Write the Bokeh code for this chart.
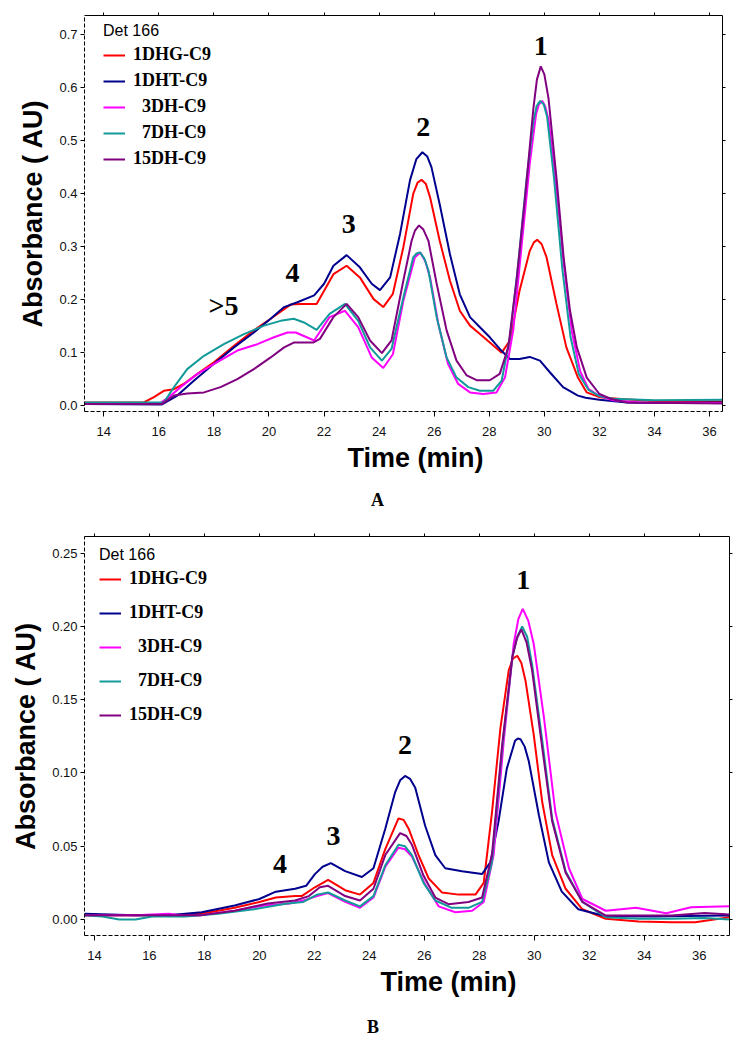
from bokeh.plotting import figure
from bokeh.layouts import column
from bokeh.models import (LinearAxis, Range1d, FixedTicker, Legend, LegendItem,
                          Title, Div, NumeralTickFormatter)
from bokeh.core.properties import value
from bokeh.embed import file_html
from bokeh.resources import INLINE

# ---------------- data: panel A ----------------
series_names = ["1DHG-C9", "1DHT-C9", "3DH-C9", "7DH-C9", "15DH-C9"]
legend_labels = ["1DHG-C9", "1DHT-C9", "  3DH-C9", "  7DH-C9", "15DH-C9"]
colors = ["#ff0000", "#00008f", "#ff00ff", "#129a9a", "#800080"]

a_t_1dhg = [13.3, 15.0, 15.45, 15.82, 16.18, 16.55, 16.9, 17.4, 18.0, 18.73, 19.45, 20.06, 20.55, 20.8,
            21.13, 21.73, 22.34, 22.82, 23.3, 23.8, 24.15, 24.5, 24.88, 25.24, 25.4, 25.54, 25.7, 25.85,
            26.2, 26.57, 26.93, 27.3, 27.66, 28.02, 28.45, 28.75, 29.1, 29.47, 29.62, 29.74, 29.9, 30.08,
            30.44, 30.8, 31.22, 31.54, 32.0, 32.9, 34.0, 36.0, 36.5]
a_v_1dhg = [0.006, 0.006, 0.006, 0.016, 0.028, 0.031, 0.041, 0.060, 0.082, 0.113, 0.142, 0.164, 0.182, 0.191,
            0.192, 0.192, 0.248, 0.264, 0.242, 0.201, 0.186, 0.211, 0.299, 0.400, 0.421, 0.426, 0.418, 0.393,
            0.311, 0.236, 0.179, 0.151, 0.135, 0.119, 0.100, 0.123, 0.217, 0.292, 0.308, 0.313, 0.305, 0.280,
            0.192, 0.110, 0.053, 0.025, 0.016, 0.012, 0.009, 0.008, 0.008]

a_t_1dht = [13.3, 16.1, 16.67, 17.27, 18.0, 18.73, 19.45, 20.06, 20.55, 21.03, 21.64, 22.0, 22.34, 22.82,
            23.3, 23.73, 24.03, 24.4, 24.76, 25.12, 25.35, 25.57, 25.75, 25.9, 26.2, 26.57, 26.93, 27.3, 27.66,
            28.02, 28.38, 28.75, 29.1, 29.47, 29.84, 30.2, 30.68, 31.22, 31.5, 32.0, 33.0, 34.0, 36.0, 36.5]
a_v_1dht = [0.003, 0.002, 0.019, 0.047, 0.079, 0.110, 0.138, 0.164, 0.186, 0.195, 0.208, 0.230, 0.264, 0.284,
            0.261, 0.230, 0.218, 0.242, 0.324, 0.425, 0.465, 0.478, 0.470, 0.450, 0.380, 0.286, 0.210, 0.167,
            0.148, 0.129, 0.107, 0.088, 0.088, 0.092, 0.085, 0.063, 0.035, 0.019, 0.015, 0.011, 0.006, 0.005,
            0.006, 0.006]

a_t_3dh = [13.3, 16.0, 16.36, 16.79, 17.4, 18.12, 18.85, 19.58, 20.18, 20.67, 20.97, 21.33, 21.64, 22.2,
           22.76, 23.24, 23.73, 24.15, 24.5, 24.88, 25.3, 25.5, 25.68, 25.85, 26.15, 26.5, 26.87, 27.3, 27.78,
           28.26, 28.57, 28.87, 29.17, 29.47, 29.7, 29.8, 29.92, 30.03, 30.15, 30.4, 30.7, 31.0, 31.3, 31.6,
           32.0, 32.5, 33.5, 36.5]
a_v_3dh = [0.003, 0.003, 0.016, 0.035, 0.060, 0.082, 0.104, 0.116, 0.129, 0.138, 0.138, 0.130, 0.123, 0.167,
           0.179, 0.148, 0.091, 0.071, 0.097, 0.198, 0.280, 0.289, 0.272, 0.242, 0.154, 0.079, 0.041, 0.025,
           0.022, 0.025, 0.053, 0.142, 0.299, 0.456, 0.550, 0.568, 0.575, 0.565, 0.540, 0.430, 0.270, 0.140,
           0.065, 0.032, 0.018, 0.010, 0.006, 0.005]

a_t_7dh = [13.3, 16.18, 16.55, 17.03, 17.64, 18.36, 19.09, 19.82, 20.42, 20.9, 21.27, 21.73, 22.2, 22.76,
           23.24, 23.67, 24.1, 24.45, 24.88, 25.24, 25.36, 25.48, 25.64, 25.79, 26.09, 26.45, 26.81, 27.24,
           27.66, 28.14, 28.45, 28.75, 29.05, 29.35, 29.6, 29.72, 29.85, 29.98, 30.1, 30.35, 30.65, 30.95,
           31.25, 31.6, 32.0, 32.5, 34.0, 36.5]
a_v_7dh = [0.006, 0.006, 0.035, 0.069, 0.094, 0.116, 0.135, 0.151, 0.160, 0.164, 0.157, 0.143, 0.173, 0.192,
           0.160, 0.110, 0.085, 0.107, 0.204, 0.280, 0.287, 0.289, 0.278, 0.255, 0.167, 0.091, 0.053, 0.035,
           0.028, 0.028, 0.047, 0.129, 0.267, 0.425, 0.535, 0.565, 0.575, 0.568, 0.545, 0.430, 0.260, 0.130,
           0.060, 0.030, 0.018, 0.013, 0.010, 0.011]

a_t_15dh = [13.3, 16.1, 16.55, 17.03, 17.64, 18.24, 18.85, 19.45, 20.06, 20.55, 20.9, 21.27, 21.6, 21.85,
            22.34, 22.82, 23.24, 23.67, 24.1, 24.45, 24.88, 25.18, 25.3, 25.45, 25.6, 25.79, 26.09, 26.45,
            26.81, 27.18, 27.54, 28.02, 28.38, 28.69, 28.99, 29.3, 29.6, 29.73, 29.87, 30.0, 30.15, 30.45,
            30.7, 30.93, 31.18, 31.54, 32.0, 32.4, 33.0, 36.5]
a_v_15dh = [0.003, 0.003, 0.019, 0.023, 0.025, 0.035, 0.050, 0.069, 0.091, 0.110, 0.119, 0.119, 0.119, 0.126,
            0.167, 0.192, 0.167, 0.123, 0.099, 0.123, 0.236, 0.311, 0.330, 0.340, 0.333, 0.311, 0.230, 0.142,
            0.085, 0.057, 0.048, 0.048, 0.060, 0.110, 0.236, 0.393, 0.560, 0.615, 0.640, 0.625, 0.580, 0.425,
            0.280, 0.180, 0.110, 0.053, 0.022, 0.013, 0.006, 0.004]

a_peak_labels = ["1", "2", "3", "4", ">5"]
a_peak_t = [29.87, 25.6, 22.9, 20.85, 18.35]
a_peak_v = [0.679, 0.525, 0.343, 0.251, 0.189]

# ---------------- data: panel B ----------------
b_t_1dhg = [13.64, 15.5, 16.7, 17.9, 19.1, 20.0, 20.6, 21.3, 21.54, 22.02, 22.5, 23.12, 23.66, 24.15, 24.58,
            25.06, 25.25, 25.43, 25.79, 26.16, 26.64, 27.25, 27.86, 28.16, 28.46, 28.77, 29.07, 29.22, 29.38,
            29.53, 29.68, 29.98, 30.29, 30.65, 31.14, 31.75, 32.6, 33.8, 35.0, 35.85, 37.1]
b_v_1dhg = [0.003, 0.003, 0.003, 0.004, 0.008, 0.012, 0.015, 0.016, 0.016, 0.022, 0.027, 0.020, 0.017, 0.025,
            0.048, 0.069, 0.068, 0.062, 0.044, 0.028, 0.0185, 0.017, 0.017, 0.025, 0.073, 0.131, 0.170, 0.178,
            0.180, 0.175, 0.163, 0.126, 0.080, 0.044, 0.021, 0.007, 0.0005, -0.0014, -0.0018, -0.0018, 0.0016]

b_t_1dht = [13.64, 15.5, 16.7, 17.9, 19.1, 20.0, 20.6, 21.3, 21.7, 22.02, 22.3, 22.6, 23.12, 23.73, 24.15,
            24.58, 24.94, 25.12, 25.3, 25.48, 25.67, 26.03, 26.4, 26.76, 27.37, 28.1, 28.4, 28.7, 29.0, 29.3,
            29.4, 29.5, 29.65, 29.8, 30.17, 30.53, 31.0, 31.6, 32.6, 34.4, 36.2, 37.1]
b_v_1dht = [0.004, 0.003, 0.003, 0.005, 0.0096, 0.014, 0.019, 0.021, 0.023, 0.031, 0.036, 0.0385, 0.033,
            0.029, 0.035, 0.062, 0.087, 0.095, 0.098, 0.096, 0.090, 0.064, 0.044, 0.035, 0.033, 0.031, 0.039,
            0.067, 0.103, 0.122, 0.1235, 0.123, 0.118, 0.108, 0.071, 0.039, 0.019, 0.007, 0.0023, 0.002,
            0.0025, 0.0027]

b_t_3dh = [13.64, 15.5, 16.7, 17.3, 17.9, 19.1, 20.2, 21.1, 21.6, 22.1, 22.5, 23.12, 23.66, 24.15, 24.58,
           25.06, 25.3, 25.55, 26.03, 26.52, 27.13, 27.74, 28.16, 28.52, 28.89, 29.25, 29.42, 29.58, 29.78,
           29.98, 30.35, 30.77, 31.26, 31.75, 32.6, 33.7, 34.8, 35.7, 37.1]
b_v_3dh = [0.003, 0.003, 0.004, 0.0025, 0.003, 0.006, 0.0096, 0.011, 0.013, 0.016, 0.018, 0.012, 0.008,
           0.015, 0.036, 0.049, 0.048, 0.043, 0.024, 0.009, 0.005, 0.006, 0.012, 0.044, 0.122, 0.188, 0.205,
           0.212, 0.204, 0.188, 0.138, 0.073, 0.035, 0.014, 0.006, 0.008, 0.0043, 0.0084, 0.009]

b_t_7dh = [13.64, 14.3, 14.9, 15.5, 16.1, 17.3, 18.5, 19.8, 21.0, 21.6, 22.1, 22.5, 23.12, 23.66, 24.15,
           24.58, 25.06, 25.3, 25.55, 25.97, 26.4, 27.0, 27.61, 28.1, 28.46, 28.83, 29.2, 29.38, 29.56,
           29.74, 29.92, 30.29, 30.65, 31.14, 31.75, 32.6, 33.8, 35.0, 36.2, 37.1]
b_v_7dh = [0.003, 0.002, 0.0, 0.0, 0.002, 0.002, 0.004, 0.007, 0.011, 0.012, 0.017, 0.0185, 0.013, 0.009,
           0.016, 0.037, 0.051, 0.050, 0.044, 0.025, 0.013, 0.008, 0.008, 0.012, 0.039, 0.117, 0.179, 0.193,
           0.200, 0.193, 0.174, 0.122, 0.069, 0.033, 0.012, 0.0016, 0.0005, 0.0005, 0.001, 0.0]

b_t_15dh = [13.64, 15.5, 16.7, 17.9, 19.1, 20.3, 21.3, 21.8, 22.2, 22.5, 23.12, 23.66, 24.15, 24.58, 25.12,
            25.35, 25.55, 25.97, 26.4, 26.88, 27.61, 28.1, 28.46, 28.83, 29.2, 29.37, 29.53, 29.72, 29.92,
            30.29, 30.65, 31.14, 31.75, 32.6, 33.8, 35.0, 36.2, 37.1]
b_v_15dh = [0.003, 0.003, 0.003, 0.003, 0.006, 0.011, 0.013, 0.016, 0.022, 0.023, 0.016, 0.013, 0.021,
            0.044, 0.059, 0.057, 0.051, 0.030, 0.015, 0.0105, 0.012, 0.015, 0.044, 0.119, 0.179, 0.192,
            0.198, 0.189, 0.170, 0.117, 0.067, 0.032, 0.012, 0.0027, 0.0027, 0.0027, 0.0045, 0.0034]

b_peak_labels = ["1", "2", "3", "4"]
b_peak_t = [29.6, 25.3, 22.7, 20.75]
b_peak_v = [0.232, 0.119, 0.057, 0.038]

x_ticks = [14, 16, 18, 20, 22, 24, 26, 28, 30, 32, 34, 36]
a_y_ticks = [0.0, 0.1, 0.2, 0.3, 0.4, 0.5, 0.6, 0.7]
b_y_ticks = [0.00, 0.05, 0.10, 0.15, 0.20, 0.25]

SANS = "Liberation Sans"
SERIF = "Liberation Serif"


def make_panel(series, xr, yr, yticks, yfmt, peaks,
               frame_w, frame_h, b_left, b_right, b_top, b_bottom,
               leg_loc, leg_spacing, time_offset):
    p = figure(frame_width=frame_w, frame_height=frame_h,
               x_range=Range1d(*xr), y_range=Range1d(*yr),
               output_backend="svg", toolbar_location=None,
               min_border_left=b_left, min_border_right=b_right,
               min_border_top=b_top, min_border_bottom=b_bottom,
               background_fill_color="white", border_fill_color="white")
    p.outline_line_color = None
    p.xgrid.visible = False
    p.ygrid.visible = False

    # bottom axis
    xa = p.xaxis[0]
    xa.ticker = FixedTicker(ticks=x_ticks)
    xa.axis_line_dash = "4 2"
    xa.axis_line_color = "black"
    xa.major_tick_in = 0
    xa.major_tick_out = 5
    xa.minor_tick_line_color = None
    xa.major_label_text_font = SANS
    xa.major_label_text_font_size = "13px"
    xa.major_label_text_color = "#111111"
    xa.major_label_standoff = 10

    # left axis
    ya = p.yaxis[0]
    ya.ticker = FixedTicker(ticks=yticks)
    ya.formatter = NumeralTickFormatter(format=yfmt)
    ya.axis_line_dash = "4 2"
    ya.axis_line_color = "black"
    ya.major_tick_in = 0
    ya.major_tick_out = 4
    ya.minor_tick_line_color = None
    ya.major_label_text_font = SANS
    ya.major_label_text_font_size = "13px"
    ya.major_label_text_color = "#111111"
    ya.major_label_standoff = 3
    ya.axis_label = "Absorbance ( AU)"
    ya.axis_label_text_font = SANS
    ya.axis_label_text_font_size = "27px"
    ya.axis_label_text_font_style = "bold"
    ya.axis_label_text_color = "black"
    ya.axis_label_standoff = 8

    # top and right solid frame axes (ticks only, no visible labels)
    top = LinearAxis(ticker=FixedTicker(ticks=x_ticks), major_label_text_font_size="1px",
                     major_label_text_color=None,
                     major_label_standoff=0, major_tick_in=0, major_tick_out=3,
                     minor_tick_line_color=None, axis_line_color="black")
    p.add_layout(top, "above")
    right = LinearAxis(ticker=FixedTicker(ticks=yticks), major_label_text_font_size="1px",
                       major_label_text_color=None,
                       major_label_standoff=0, major_tick_in=0, major_tick_out=3,
                       minor_tick_line_color=None, axis_line_color="black")
    p.add_layout(right, "right")

    items = []
    for (t, v), c, lab in zip(series, colors, legend_labels):
        r = p.line(t, v, line_color=c, line_width=2)
        items.append(LegendItem(label=lab, renderers=[r]))

    pl, pt, pv = peaks
    p.text(x=pt, y=pv, text=pl, text_align="center", text_baseline="middle",
           text_font=value(SERIF), text_font_style="bold", text_font_size="28px",
           text_color="black")

    leg = Legend(items=items, location=leg_loc, title="Det 166",
                 title_text_font=SANS, title_text_font_size="16px",
                 title_text_font_style="normal", title_text_color="black",
                 title_standoff=4,
                 label_text_font=SERIF, label_text_font_size="18px",
                 label_text_font_style="bold", label_text_color="black",
                 label_height=20, glyph_height=20, glyph_width=22,
                 label_standoff=8, spacing=leg_spacing, padding=0, margin=0,
                 border_line_color=None, background_fill_alpha=0)
    p.add_layout(leg, "center")

    tt = Title(text="Time (min)", align="left", offset=time_offset,
               text_font=SANS, text_font_size="27px", text_font_style="bold",
               text_color="black", standoff=4)
    p.add_layout(tt, "below")
    return p


def panel_letter(letter, height, pad_top, pad_left):
    html = ("<div style=\"font-family:'Liberation Serif',serif;font-weight:bold;font-size:18px;"
            "line-height:18px;color:black;padding-top:%dpx;padding-left:%dpx\">%s</div>"
            % (pad_top, pad_left, letter))
    return Div(text=html, width=738, height=height, margin=0)


series_a = [(a_t_1dhg, a_v_1dhg), (a_t_1dht, a_v_1dht), (a_t_3dh, a_v_3dh),
            (a_t_7dh, a_v_7dh), (a_t_15dh, a_v_15dh)]
series_b = [(b_t_1dhg, b_v_1dhg), (b_t_1dht, b_v_1dht), (b_t_3dh, b_v_3dh),
            (b_t_7dh, b_v_7dh), (b_t_15dh, b_v_15dh)]

pa = make_panel(series_a, (13.3, 36.47), (-0.011, 0.736), a_y_ticks, "0.0",
                (a_peak_labels, a_peak_t, a_peak_v),
                638, 396, 84, 16, 15, 69, (19, 242), 5, 263)
div_a = panel_letter("A", 42, 11, 371)
pb = make_panel(series_b, (13.64, 37.1), (-0.0109, 0.2614), b_y_ticks, "0.00",
                (b_peak_labels, b_peak_t, b_peak_v),
                645, 399, 82, 11, 14, 70, (15, 210), 13, 296)
div_b = panel_letter("B", 36, 13, 367)

layout = column(pa, div_a, pb, div_b, spacing=0)
open("out.html", "w").write(file_html(layout, INLINE))
